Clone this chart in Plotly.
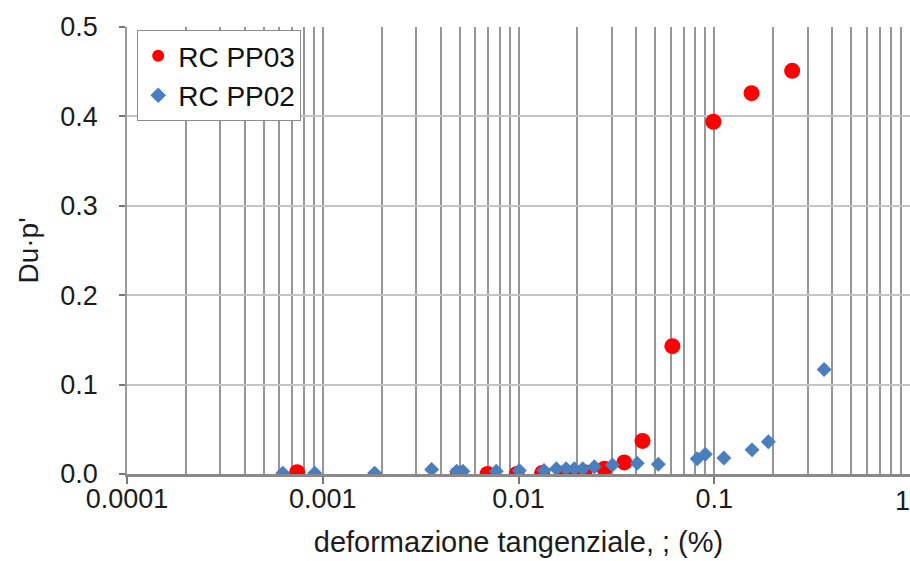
import plotly.graph_objects as go

# RC PP03 (red circles)
pp03_x = [0.00074, 0.0049, 0.00695, 0.0098, 0.0132, 0.0172, 0.0217, 0.0275, 0.0347, 0.043, 0.0611, 0.099, 0.155, 0.25]
pp03_y = [0.002, 0.0, 0.0, 0.0, 0.001, 0.001, 0.002, 0.006, 0.013, 0.037, 0.143, 0.394, 0.426, 0.451]

# RC PP02 (blue diamonds)
pp02_x = [0.000625, 0.00091, 0.00184, 0.0036, 0.00483, 0.0052, 0.0077, 0.0101, 0.0135, 0.0156, 0.0175,
          0.0193, 0.0213, 0.0244, 0.0302, 0.0404, 0.0518, 0.0818, 0.090, 0.112, 0.156, 0.189, 0.364]
pp02_y = [0.001, 0.001, 0.001, 0.005, 0.003, 0.003, 0.003, 0.004, 0.004, 0.006, 0.006,
          0.006, 0.006, 0.008, 0.010, 0.012, 0.011, 0.017, 0.022, 0.018, 0.027, 0.036, 0.117]

x_tickvals = [0.0001, 0.001, 0.01, 0.1]
x_ticktext = ["0.0001", "0.001", "0.01", "0.1"]
x_edge_label = "1"
y_tickvals = [0.0, 0.1, 0.2, 0.3, 0.4, 0.5]

FONT = "Liberation Sans, Arial, sans-serif"
FS = 27
TXT = "#1c1c1c"

fig = go.Figure()
fig.add_trace(go.Scatter(
    x=pp03_x, y=pp03_y, mode="markers", name="RC PP03",
    marker=dict(symbol="circle", size=16, color="#FF0000"),
))
fig.add_trace(go.Scatter(
    x=pp02_x, y=pp02_y, mode="markers", name="RC PP02",
    marker=dict(symbol="diamond", size=11.5, color="#4A7EBF"),
))

fig.add_annotation(
    x=0, xref="x", y=0, yref="paper", yshift=-10, xshift=2,
    text=x_edge_label, showarrow=False, xanchor="right", yanchor="top",
    font=dict(family=FONT, size=FS, color=TXT),
)

fig.update_layout(
    width=910, height=561,
    margin=dict(l=127, r=0, t=27, b=87),
    paper_bgcolor="white", plot_bgcolor="white",
    font=dict(family=FONT, size=FS, color=TXT),
    showlegend=True,
    legend=dict(
        x=0.013, y=0.993, xanchor="left", yanchor="top",
        bgcolor="white", bordercolor="#8c8c8c", borderwidth=1,
        font=dict(family=FONT, size=28, color="#111111"),
        itemsizing="constant",
    ),
    xaxis=dict(
        type="log", range=[-4, 0],
        tickvals=x_tickvals, ticktext=x_ticktext,
        showgrid=True, gridcolor="#969696", gridwidth=2,
        minor=dict(dtick="D1", showgrid=True, gridcolor="#969696", gridwidth=2, ticks=""),
        ticks="outside", ticklen=7, tickcolor="#777777", tickwidth=2,
        showline=True, linecolor="#8a8a8a", linewidth=3,
        zeroline=False,
        ticklabelstandoff=-8,
        tickfont=dict(size=FS, color=TXT),
        title=dict(text="deformazione tangenziale, ; (%)", font=dict(size=29, color=TXT), standoff=19),
    ),
    yaxis=dict(
        range=[0, 0.5], tickvals=y_tickvals, tickformat=".1f",
        showgrid=True, gridcolor="#c4c4c4", gridwidth=2,
        ticks="outside", ticklen=6, tickcolor="#777777", tickwidth=1.5,
        showline=True, linecolor="#9a9a9a", linewidth=1.5,
        zeroline=False,
        ticklabelstandoff=16,
        tickfont=dict(size=FS, color=TXT),
        title=dict(text="Du·p'", font=dict(size=28, color=TXT), standoff=14),
    ),
)

fig.write_html("out.html")
